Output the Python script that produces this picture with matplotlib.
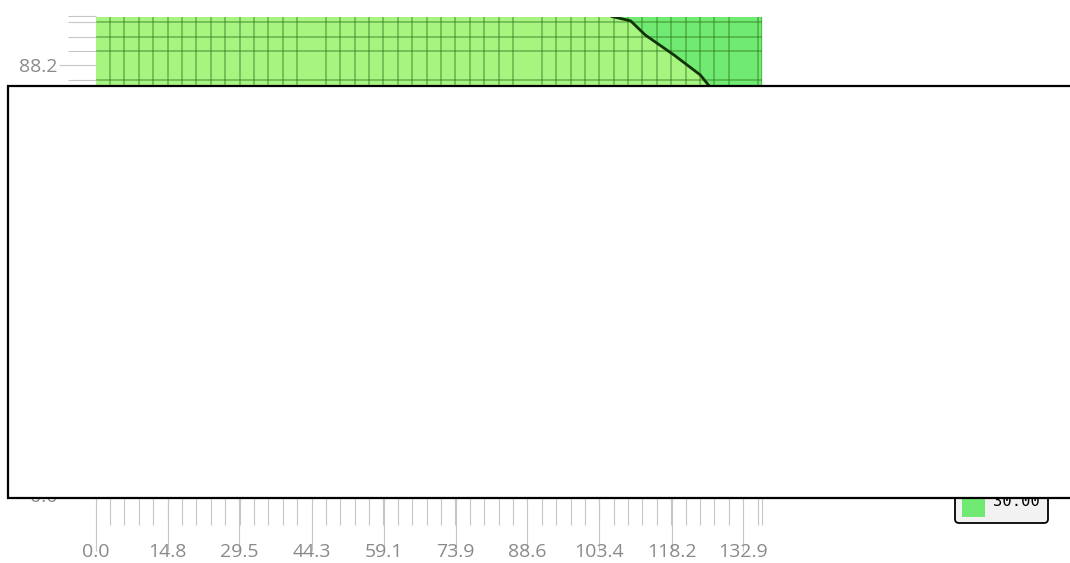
import matplotlib
matplotlib.use("Agg")
import matplotlib.pyplot as plt
from matplotlib.patches import Rectangle, FancyBboxPatch
from matplotlib.transforms import Affine2D

# Axis ranges and tick labels
x_max = 136.7
y_max = 98.2
x_tick_labels = ["0.0", "14.8", "29.5", "44.3", "59.1", "73.9", "88.6", "103.4", "118.2", "132.9"]
y_tick_labels = ["0.0", "14.7", "29.4", "44.1", "58.8", "73.5", "88.2"]

# Contour level and the traced iso-line separating the two bands
levels = [30.00]
iso_x = [106.0, 109.8, 112.8, 118.7, 124.1, 125.8, 131.0, 136.7]
iso_y = [98.2, 97.3, 94.4, 90.3, 86.2, 84.1, 78.0, 71.5]

band_low = "#a8f480"
band_high = "#70ea72"
grid_col = "#2f7a1f"
tick_col = "#c6c6c6"
label_col = "#8a8a8a"

W, H = 1070, 563
fig = plt.figure(figsize=(W / 100, H / 100), dpi=100)
px = Affine2D().scale(1 / W, -1 / H).translate(0, 1) + fig.transFigure

ax = fig.add_axes([95.7 / W, (H - 495) / H, 666 / W, 478.5 / H])
ax.set_xlim(0, x_max)
ax.set_ylim(0, y_max)
ax.set_facecolor(band_low)
for s in ax.spines.values():
    s.set_visible(False)

# upper band of the filled contour
ax.fill_between(iso_x, iso_y, y_max, color=band_high, zorder=1, linewidth=0)
ax.plot(iso_x, iso_y, color="#123309", lw=2.0, zorder=4, solid_joinstyle="round")

# ticks: labelled majors plus a fine minor lattice carrying the grid
x_major = [float(t) for t in x_tick_labels]
y_major = [float(t) for t in y_tick_labels]
x_step = (x_major[-1] - x_major[0]) / (len(x_major) - 1) / 5
y_step = (y_major[-1] - y_major[0]) / (len(y_major) - 1) / 5
x_minor = [i * x_step + 1e-6 for i in range(int(x_max / x_step) + 1)] + [x_max]
y_minor = [i * y_step + 1e-6 for i in range(int(y_max / y_step) + 1)] + [y_max]

ax.set_xticks(x_major)
ax.set_xticklabels(x_tick_labels)
ax.set_xticks(x_minor, minor=True)
ax.set_yticks(y_major)
ax.set_yticklabels(y_tick_labels)
ax.set_yticks(y_minor, minor=True)

ax.tick_params(axis="x", which="major", length=40.3, width=0.8, color=tick_col,
               pad=-5.5, labelsize=14, labelcolor=label_col)
ax.tick_params(axis="x", which="minor", length=21.6, width=0.8, color=tick_col)
ax.tick_params(axis="y", which="major", length=27, width=0.8, color=tick_col,
               pad=0.5, labelsize=14, labelcolor=label_col)
ax.tick_params(axis="y", which="minor", length=20, width=0.8, color=tick_col)
for lab in ax.get_xticklabels() + ax.get_yticklabels():
    lab.set_family("Open Sans")

ax.set_axisbelow(False)
ax.grid(which="minor", color=grid_col, alpha=0.5, lw=1.2)
ax.grid(which="major", visible=False)

# legend box for the contour level
leg_box = FancyBboxPatch((955, 478), 93, 45, boxstyle="round,pad=0,rounding_size=4",
                         transform=px, facecolor="#f2f2f2", edgecolor="black",
                         lw=1.3, zorder=2)
fig.add_artist(leg_box)
fig.add_artist(Rectangle((962, 496), 23, 21, transform=px, facecolor=band_high,
                         edgecolor="none", zorder=3))
fig.text(993 / W, 1 - 506 / H, f"{levels[0]:.2f}", family="DejaVu Sans Mono",
         fontsize=11.2, color="black", va="baseline", ha="left", zorder=3)

# panel laid over the chart
fig.add_artist(Rectangle((8, 86), 1100, 412, transform=px, facecolor="white",
                         edgecolor="black", lw=1.6, zorder=10))

fig.savefig("out.png", dpi=100)
